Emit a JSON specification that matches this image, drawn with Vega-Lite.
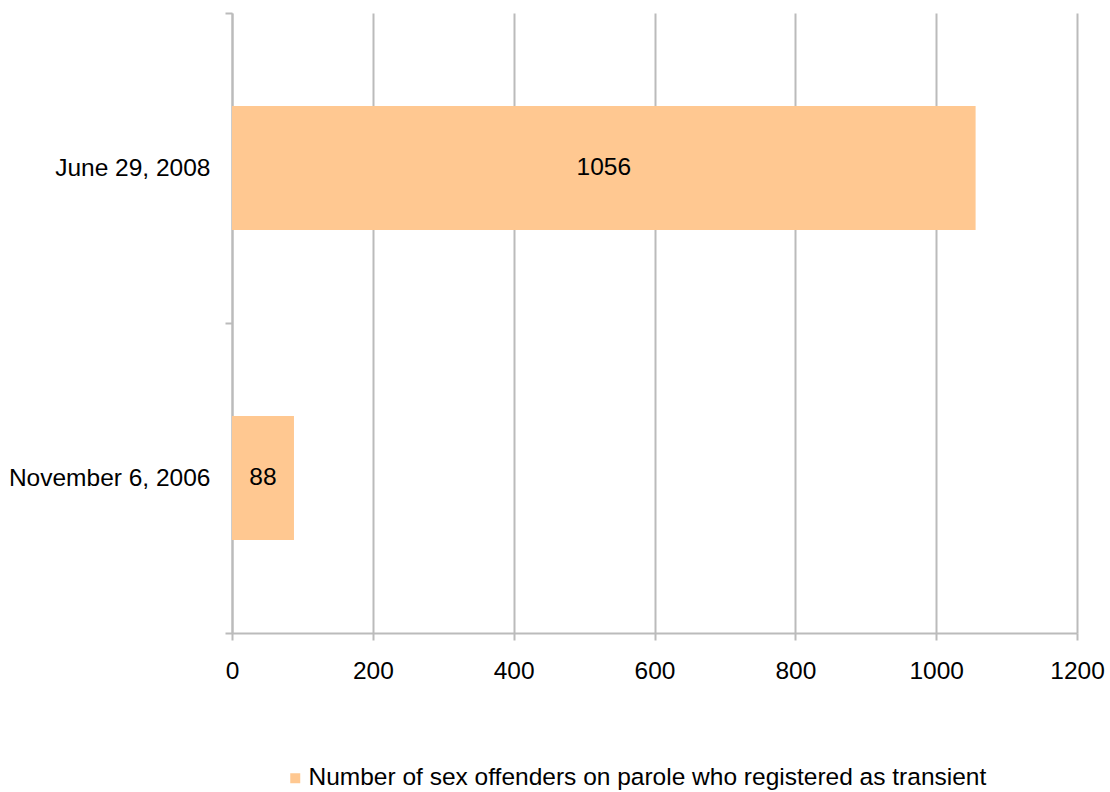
{
  "$schema": "https://vega.github.io/schema/vega-lite/v6.json",
  "autosize": {"type": "none"},
  "padding": {"left": 232, "top": 13, "right": 33, "bottom": 159},
  "width": 845,
  "height": 620,
  "background": "white",
  "config": {
    "view": {"stroke": null},
    "font": "Liberation Sans",
    "axis": {"labelFont": "Liberation Sans", "labelColor": "#000000", "labelFontSize": 24.5, "domainColor": "#BBBBBB", "domainWidth": 2, "tickColor": "#BBBBBB", "tickWidth": 2, "gridColor": "#BBBBBB", "gridWidth": 2, "tickSize": 7, "labelLimit": 400}
  },
  "data": {
    "values": [
      {"date": "June 29, 2008", "count": 1056, "series": "Number of sex offenders on parole who registered as transient"},
      {"date": "November 6, 2006", "count": 88, "series": "Number of sex offenders on parole who registered as transient"}
    ]
  },
  "encoding": {
    "y": {
      "field": "date", "type": "nominal", "sort": ["June 29, 2008", "November 6, 2006"],
      "scale": {"paddingInner": 0, "paddingOuter": 0},
      "axis": {"title": null, "tickBand": "extent", "labelPadding": 15, "domain": true, "grid": false}
    }
  },
  "layer": [
    {
      "mark": {"type": "bar", "height": {"band": 0.4}},
      "encoding": {
        "x": {
          "field": "count", "type": "quantitative",
          "scale": {"domain": [0, 1200], "nice": false},
          "axis": {"title": null, "values": [0, 200, 400, 600, 800, 1000, 1200], "format": "d", "grid": true, "labelPadding": 19, "labelFlush": false}
        },
        "color": {
          "field": "series", "type": "nominal",
          "scale": {"range": ["#FFC891"]},
          "legend": {"title": null, "orient": "none", "legendX": 51, "legendY": 753, "symbolType": "square", "symbolSize": 100, "symbolStrokeWidth": 0, "labelFontSize": 24.5, "labelFont": "Liberation Sans", "labelColor": "#000000", "labelLimit": 1000, "labelOffset": 1, "symbolOffset": 0}
        }
      }
    },
    {
      "mark": {"type": "text", "fontSize": 24.5, "color": "#000000", "align": "center", "baseline": "middle"},
      "encoding": {
        "x": {"field": "count", "type": "quantitative", "scale": {"domain": [0, 2400], "nice": false}, "axis": null},
        "text": {"field": "count", "type": "quantitative", "format": "d"}
      }
    }
  ],
  "resolve": {"scale": {"x": "independent"}}
}
